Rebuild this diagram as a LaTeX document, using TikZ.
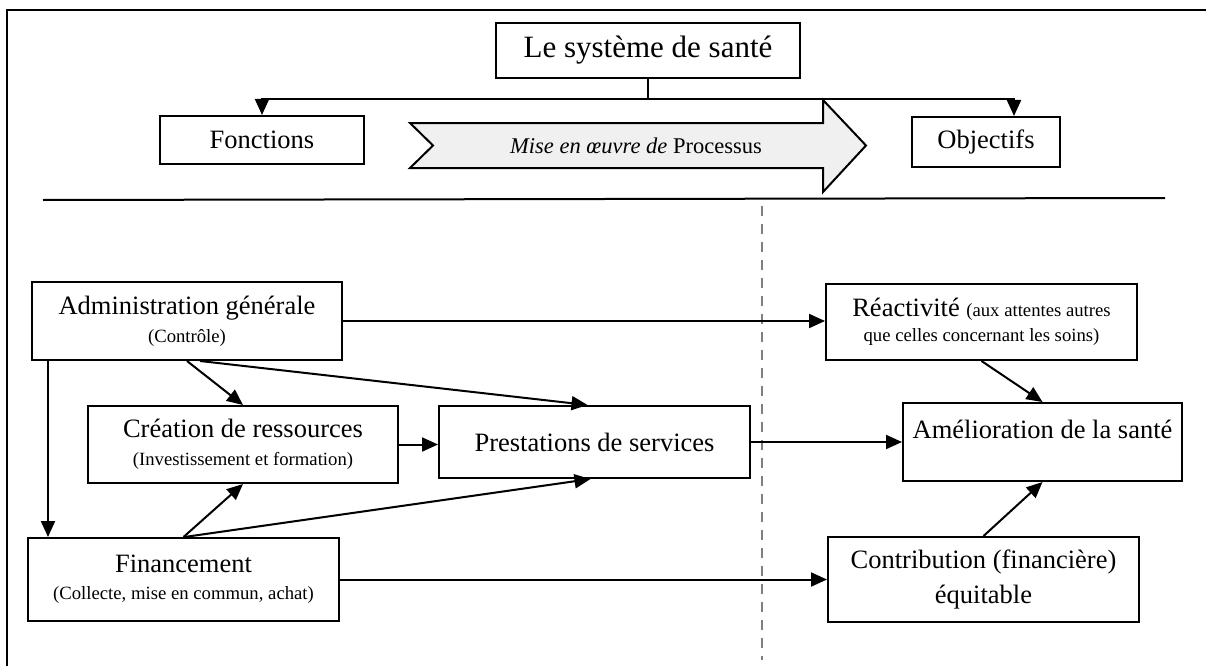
\documentclass[tikz,border=0pt]{standalone}
\usepackage{fontspec}
\setmainfont{Liberation Serif}
\usetikzlibrary{arrows.meta}
\definecolor{procgray}{rgb}{0.94,0.94,0.94}
\definecolor{dashgray}{rgb}{0.5,0.5,0.5}
\newcommand{\bigtxt}{\fontsize{26.5}{31}\selectfont}
\newcommand{\smalltxt}{\fontsize{18.7}{22}\selectfont}
\newcommand{\proctxt}{\fontsize{22.5}{26}\selectfont}
\newcommand{\toptxt}{\fontsize{31}{36}\selectfont}

\begin{document}
\begin{tikzpicture}[x = 1pt, y = -1pt,
  box/.style = {draw, line width = 2pt, inner sep = 0pt, align = center, font = \bigtxt},
  arr/.style = {line width = 2pt, -{Triangle[length = 16pt, width = 14pt]}}]
\useasboundingbox (0,0) rectangle (1206,666);

% frame and separators
\draw [line width = 2.5pt] (7,666) -- (7,10) -- (1206,10);
\draw [line width = 2pt] (43,200) -- (1165,198);
\draw [line width = 2.2pt, dashgray, dash pattern = on 10pt off 8pt] (762,206) -- (762,660);

% top part
\node[box, minimum width = 304pt, minimum height = 55pt, font = \toptxt] (v1) at (648,50.5) {Le système de santé};
\node[box, minimum width = 204pt, minimum height = 48pt] (v2) at (262,140) {Fonctions};
\node[box, minimum width = 148pt, minimum height = 50pt] (v3) at (986,142) {Objectifs};

\draw [line width = 2pt, fill = procgray] (410,123) -- (823,123) -- (823,100) -- (866,145.5)
  -- (823,192) -- (823,168) -- (410,168) -- (433,145.5) -- cycle;
\node (v4) at (636,146) {\proctxt\textit{Mise en œuvre de} Processus};

\draw [line width = 2pt] (v1.south) -- ++(0,20) coordinate (c1);
\draw [arr] (c1) -| (v2.north);
\draw [arr] (c1) -| ([xshift = 28pt]v3.north);

% functions
\node[box, minimum width = 310pt, minimum height = 78pt] (v5) at (187,321)
  {Administration générale\\[-3pt]{\smalltxt (Contrôle)}};
\node[box, minimum width = 310pt, minimum height = 77pt] (v6) at (243,444.5)
  {Création de ressources\\[-3pt]{\smalltxt (Investissement et formation)}};
\node[box, minimum width = 311pt, minimum height = 83pt] (v7) at (183.5,579.5)
  {Financement\\[-4pt]{\smalltxt (Collecte, mise en commun, achat)}};
\node[box, minimum width = 311pt, minimum height = 72pt] (v8) at (594.5,442) {Prestations de services};

% objectives
\node[box, minimum width = 311pt, minimum height = 76pt] (v9) at (981.5,322)
  {Réactivité {\smalltxt (aux attentes autres}\\[-6pt]{\smalltxt que celles concernant les soins)}};
\node[box, minimum width = 279pt, minimum height = 78pt] (v10) at (1042.5,442)
  {Amélioration de la santé\\[-14pt]\strut};
\node[box, minimum width = 311pt, minimum height = 85pt] (v11) at (983.5,579.5)
  {Contribution (financière)\\[4pt]équitable};

\draw [arr] (v5.east) -- (v5.east -| v9.west);
\draw [arr] ([xshift = -139pt]v5.south) -- ([xshift = -139pt]v5.south |- v7.north);
\draw [arr] (v5.south) -- (v6.north);
\draw [arr] ([xshift = 13pt]v5.south) -- ([xshift = -7pt]v8.north);
\draw [arr] (v6.east) -- (v6.east -| v8.west);
\draw [arr] (v7.north) -- (v6.south);
\draw [arr] ([xshift = 1pt]v7.north) -- ([xshift = -4pt]v8.south);
\draw [arr] (v8.east) -- (v10.west);
\draw [arr] (v9.south) -- (v10.north);
\draw [arr] (v11.north) -- (v10.south);
\draw [arr] (v7.east) -- (v7.east -| v11.west);
\end{tikzpicture}
\end{document}
